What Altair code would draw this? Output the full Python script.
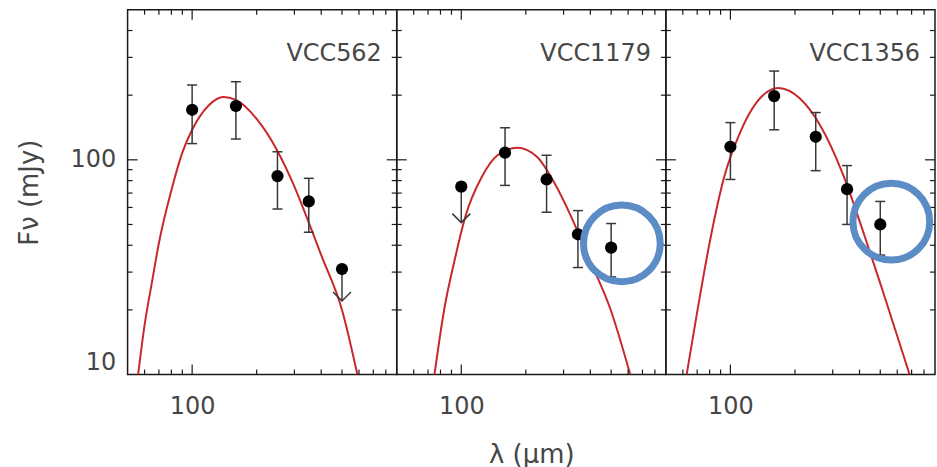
import altair as alt
import pandas as pd

# ---------------- data ----------------
panel_names = ["VCC562", "VCC1179", "VCC1356"]
band_lambda = [100, 160, 250, 350, 500]          # micron

# measured flux (mJy), lower / upper error bar ends, upper-limit flags
vcc562_flux = [171, 178, 84, 64, 31]
vcc562_err_lo = [119, 125, 59, 46, 22]
vcc562_err_hi = [223, 231, 109, 82, 31]
vcc562_upper = [False, False, False, False, True]

vcc1179_flux = [75, 108, 81, 45, 39]
vcc1179_err_lo = [51, 76, 57, 31.5, 28.5]
vcc1179_err_hi = [75, 141, 105, 58, 50.5]
vcc1179_upper = [True, False, False, False, False]

vcc1356_flux = [115, 198, 128, 73, 50]
vcc1356_err_lo = [81, 138, 89, 50, 36]
vcc1356_err_hi = [149, 259, 166, 94, 64]
vcc1356_upper = [False, False, False, False, False]

# fitted model curves
vcc562_model_lambda = [56, 60, 65, 70, 80, 90, 100, 120, 140, 160, 200, 250, 300, 350, 400, 500, 590]
vcc562_model_flux = [10, 17, 27, 41, 72, 108, 138, 180, 196, 190, 155, 110, 75, 51, 36, 20, 10]

vcc1179_model_lambda = [75, 83.4, 92.8, 105, 123.5, 147.5, 182.6, 226, 270, 323, 400, 495, 614]
vcc1179_model_flux = [10, 20.3, 33.6, 55.3, 81.8, 105, 113.8, 103, 79, 55.3, 33.6, 20.3, 10]

vcc1356_model_lambda = [62.5, 70, 80.7, 93.1, 111.3, 133, 167.5, 211, 262, 336, 416, 515, 685]
vcc1356_model_flux = [10, 19.6, 43, 81.8, 135, 186, 216, 193, 145, 84.9, 46.3, 24.3, 10]

# highlighted (circled) points
highlight_panel = ["VCC1179", "VCC1356"]
highlight_lambda = [561, 563]
highlight_flux = [40.8, 51.5]

# axis tick values
x_major_ticks = [100]
x_minor_ticks = [60, 70, 80, 90, 200, 300, 400, 500, 600, 700, 800]
y_major_ticks = [100]
y_minor_ticks = [20, 30, 40, 50, 60, 70, 80, 90, 200, 300, 400]
y_label_values = [10, 100]
x_label_values = [100]

# ---------------- style ----------------
W, H = 270, 366
RED = "#c8282b"
EB = "#383838"
FRAME = "#1a1a1a"
TXT = "#464646"
BLUE = "#5b8cc6"
FONT = "DejaVu Sans"
ARROW = "M -1 -1 L 0 0 L 1 -1"

xs = alt.Scale(type="log", domain=[50, 900], nice=False)
ys = alt.Scale(type="log", domain=[10, 500], nice=False)

fluxes = [vcc562_flux, vcc1179_flux, vcc1356_flux]
los = [vcc562_err_lo, vcc1179_err_lo, vcc1356_err_lo]
his = [vcc562_err_hi, vcc1179_err_hi, vcc1356_err_hi]
uppers = [vcc562_upper, vcc1179_upper, vcc1356_upper]
model_l = [vcc562_model_lambda, vcc1179_model_lambda, vcc1356_model_lambda]
model_f = [vcc562_model_flux, vcc1179_model_flux, vcc1356_model_flux]


def make_panel(i):
    name = panel_names[i]
    df = pd.DataFrame({"lam": band_lambda, "flux": fluxes[i], "lo": los[i],
                       "hi": his[i], "upper": uppers[i]})
    det = df[~df["upper"]]
    ul = df[df["upper"]]
    curve = pd.DataFrame({"lam": model_l[i], "flux": model_f[i]})

    x_axis = alt.Axis(values=x_label_values, format="d", labelFontSize=24, labelFont=FONT,
                      labelColor=TXT, labelPadding=20, ticks=False,
                      domain=False, grid=False,
                      title="λ  (μm)" if i == 1 else "",
                      titleFontSize=26, titleFont=FONT, titleFontWeight="normal",
                      titleColor=TXT, titlePadding=23)
    if i == 0:
        y_axis = alt.Axis(values=y_label_values, format="d", labelFontSize=24, labelFont=FONT,
                          labelColor=TXT, labelPadding=12, ticks=False,
                          domain=False, grid=False,
                          labelBaseline={"condition": {"test": "datum.value <= 10",
                                                       "value": "bottom"},
                                         "value": "middle"},
                          title="Fν (mJy)", titleFontSize=26, titleFont=FONT,
                          titleFontWeight="normal", titleColor=TXT, titlePadding=28)
    else:
        y_axis = None

    X = lambda f: alt.X(f, scale=xs, axis=x_axis)
    Y = lambda f: alt.Y(f, scale=ys, axis=y_axis)

    layers = [alt.Chart(curve).mark_line(color=RED, strokeWidth=2, interpolate="monotone",
                                         clip=True).encode(x=X("lam:Q"), y=Y("flux:Q"))]
    # inward ticks on all four sides
    for vals, ln in ((x_minor_ticks, 5), (x_major_ticks, 10)):
        d = pd.DataFrame({"lam": vals})
        for y1, y2 in ((H, H - ln), (0, ln)):
            layers.append(alt.Chart(d).mark_rule(color=FRAME, strokeWidth=1.2).encode(
                x=X("lam:Q"), y=alt.value(y1), y2=alt.value(y2)))
    for vals, ln in ((y_minor_ticks, 5), (y_major_ticks, 10)):
        d = pd.DataFrame({"flux": vals})
        for x1, x2 in ((0, ln), (W, W - ln)):
            layers.append(alt.Chart(d).mark_rule(color=FRAME, strokeWidth=1.2).encode(
                y=Y("flux:Q"), x=alt.value(x1), x2=alt.value(x2)))
    layers.append(alt.Chart(df).mark_rule(color=EB, strokeWidth=1.5).encode(
        x=X("lam:Q"), y=Y("lo:Q"), y2="hi:Q"))
    layers.append(alt.Chart(det).transform_fold(["lo", "hi"], as_=["end", "val"]).mark_tick(
        orient="horizontal", size=10, thickness=1.5, color=EB, opacity=1).encode(
        x=X("lam:Q"), y=Y("val:Q")))
    if len(ul):
        layers.append(alt.Chart(ul).mark_point(shape=ARROW, filled=False, size=324,
                                               strokeWidth=1.5, color=EB, opacity=1).encode(
            x=X("lam:Q"), y=Y("lo:Q")))
    layers.append(alt.Chart(df).mark_circle(size=150, color="black", opacity=1).encode(
        x=X("lam:Q"), y=Y("flux:Q")))
    if name in highlight_panel:
        k = highlight_panel.index(name)
        hl = pd.DataFrame({"lam": [highlight_lambda[k]], "flux": [highlight_flux[k]]})
        layers.append(alt.Chart(hl).mark_point(shape="circle", filled=False, size=5929,
                                               strokeWidth=7, color=BLUE, opacity=1,
                                               clip=True).encode(
            x=X("lam:Q"), y=Y("flux:Q")))
    layers.append(alt.Chart(pd.DataFrame({"name": [name]})).mark_text(
        align="right", baseline="alphabetic", fontSize=24, font=FONT, color=TXT).encode(
        text="name:N", x=alt.value(W - 15), y=alt.value(51)))
    return alt.layer(*layers).properties(width=W, height=H)


chart = alt.hconcat(make_panel(0), make_panel(1), make_panel(2), spacing=0,
                    bounds="flush").properties(
    padding={"left": 15, "top": 7, "right": 0, "bottom": 0}
).configure(font=FONT).configure_view(stroke=FRAME, strokeWidth=1.5)

chart.save("out.html", embed_options={"renderer": "svg", "actions": False})
